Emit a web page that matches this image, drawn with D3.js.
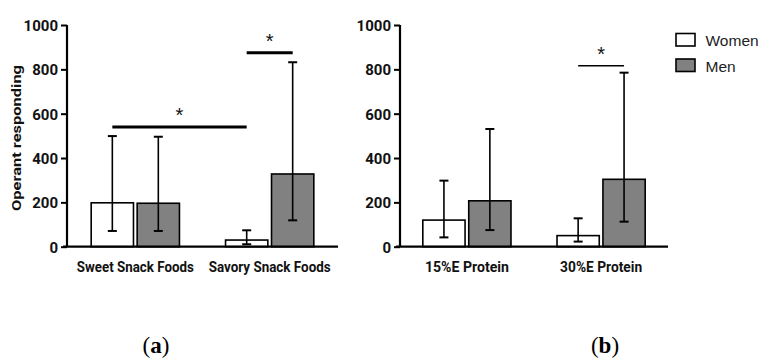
<!DOCTYPE html>
<html><head><meta charset="utf-8">
<script src="https://cdn.jsdelivr.net/npm/d3@7"></script>
<style>body{margin:0;background:#fff}svg{display:block}</style>
</head><body>
<svg id="chart" width="759" height="359"></svg>
<script>
// ---- data ----
const seriesNames = ["Women", "Men"];
const yTicks = [0, 200, 400, 600, 800, 1000];

const catsA = ["Sweet Snack Foods", "Savory Snack Foods"];
const womenA = [198, 30];
const womenA_hi = [499, 74];
const womenA_lo = [71, 11];
const menA = [196, 328];
const menA_hi = [496, 832];
const menA_lo = [71, 119];

const catsB = ["15%E Protein", "30%E Protein"];
const womenB = [120, 50];
const womenB_hi = [298, 128];
const womenB_lo = [42, 23];
const menB = [207, 304];
const menB_hi = [531, 785];
const menB_lo = [75, 113];

// significance brackets: [category, series] -> [category, series], at value
const sigA = [
  {c1: "Sweet Snack Foods", s1: "Women", c2: "Savory Snack Foods", s2: "Women", v: 540, w: 3},
  {c1: "Savory Snack Foods", s1: "Women", c2: "Savory Snack Foods", s2: "Men", v: 875, w: 3}
];
const sigB = [
  {c1: "30%E Protein", s1: "Women", c2: "30%E Protein", s2: "Men", v: 816, w: 1.6}
];

// ---- drawing ----
const svg = d3.select("#chart");
const fillOf = {Women: "#ffffff", Men: "#818181"};
const tickFont = "Roboto, 'Liberation Sans', Arial, sans-serif";
const labelWidths = {"Sweet Snack Foods": 117, "Savory Snack Foods": 122, "15%E Protein": 84, "30%E Protein": 82};

const y = d3.scaleLinear().domain([0, 1000]).range([246.7, 25]);

function panel(x0, x1, cats, wv, whi, wlo, mv, mhi, mlo, sigs, outer) {
  const g = svg.append("g");
  const x = d3.scaleBand().domain(cats).range([x0, x1]).paddingInner(0.343).paddingOuter(outer);
  const xs = d3.scaleBand().domain(seriesNames).range([0, x.bandwidth()]).paddingInner(0.08).paddingOuter(0);
  const rows = [];
  cats.forEach((c, i) => {
    rows.push({c, s: "Women", v: wv[i], hi: whi[i], lo: wlo[i]});
    rows.push({c, s: "Men", v: mv[i], hi: mhi[i], lo: mlo[i]});
  });
  const cx = d => x(d.c) + xs(d.s) + xs.bandwidth() / 2;

  // bars
  g.selectAll("rect.bar").data(rows).join("rect")
    .attr("x", d => x(d.c) + xs(d.s))
    .attr("y", d => y(d.v))
    .attr("width", xs.bandwidth())
    .attr("height", d => y(0) - y(d.v))
    .attr("fill", d => fillOf[d.s])
    .attr("stroke", "#000").attr("stroke-width", 1.6);

  // error bars
  const eb = g.selectAll("g.eb").data(rows).join("g");
  eb.append("line").attr("x1", cx).attr("x2", cx)
    .attr("y1", d => y(d.lo)).attr("y2", d => y(d.hi))
    .attr("stroke", "#000").attr("stroke-width", 1.6);
  ["hi", "lo"].forEach(k => {
    eb.append("line").attr("x1", d => cx(d) - 4.5).attr("x2", d => cx(d) + 4.5)
      .attr("y1", d => y(d[k])).attr("y2", d => y(d[k]))
      .attr("stroke", "#000").attr("stroke-width", 2);
  });

  // axes
  const ya = d3.axisLeft(y).tickValues(yTicks).tickFormat(d3.format("d")).tickSize(6).tickPadding(3);
  const yg = g.append("g").attr("transform", `translate(${x0},0)`).call(ya);
  yg.select(".domain").attr("stroke", "#000").attr("stroke-width", 2.2).attr("d", `M0,${y(1000)}V${y(0)}`);
  yg.selectAll(".tick line").attr("stroke-width", 2);
  yg.selectAll(".tick text").attr("font-family", tickFont).attr("font-weight", "bold")
    .attr("font-size", 15).attr("fill", "#111").attr("dy", "0.36em");

  const xa = d3.axisBottom(x).tickSize(0).tickPadding(0);
  const xg = g.append("g").attr("transform", `translate(0,${y(0)})`).call(xa);
  xg.select(".domain").attr("stroke", "#000").attr("stroke-width", 2.2).attr("d", `M${x0 - 4},0H${x1}`);
  xg.selectAll(".tick text").attr("font-family", tickFont).attr("font-weight", "bold")
    .attr("font-size", 14).attr("fill", "#111").attr("dy", null).attr("y", 25.5)
    .attr("textLength", d => labelWidths[d]).attr("lengthAdjust", "spacingAndGlyphs");

  // significance
  sigs.forEach(s => {
    const a = x(s.c1) + xs(s.s1) + xs.bandwidth() / 2;
    const b = x(s.c2) + xs(s.s2) + xs.bandwidth() / 2;
    g.append("line").attr("x1", a).attr("x2", b).attr("y1", y(s.v)).attr("y2", y(s.v))
      .attr("stroke", "#000").attr("stroke-width", s.w);
    g.append("text").attr("x", (a + b) / 2).attr("y", y(s.v) - 5)
      .attr("text-anchor", "middle").attr("font-family", "'Liberation Sans', Arial, sans-serif")
      .attr("font-size", 20).attr("fill", "#111").text("*");
  });
}

panel(67, 338, catsA, womenA, womenA_hi, womenA_lo, menA, menA_hi, menA_lo, sigA, 0.18);
panel(400, 668, catsB, womenB, womenB_hi, womenB_lo, menB, menB_hi, menB_lo, sigB, 0.17);

// y axis title
svg.append("text").attr("transform", "translate(21,138) rotate(-90)")
  .attr("text-anchor", "middle").attr("font-family", tickFont).attr("font-weight", "bold")
  .attr("font-size", 13).attr("fill", "#111")
  .attr("textLength", 146).attr("lengthAdjust", "spacingAndGlyphs").text("Operant responding");

// legend
const lg = svg.append("g").selectAll("g").data(seriesNames).join("g")
  .attr("transform", (d, i) => `translate(676,${33.5 + i * 25.5})`);
lg.append("rect").attr("width", 19).attr("height", 12.5)
  .attr("fill", d => fillOf[d]).attr("stroke", "#000").attr("stroke-width", 1.6);
lg.append("text").attr("x", 29.5).attr("y", 12.8)
  .attr("font-family", "'Liberation Sans Narrow', 'Liberation Sans', Arial, sans-serif").attr("font-size", 15.5)
  .attr("fill", "#222")
  .text(d => d);

// panel labels
[["a", 156], ["b", 605]].forEach(([l, px]) => {
  const t = svg.append("text").attr("x", px).attr("y", 353).attr("text-anchor", "middle")
    .attr("font-family", "'Liberation Serif', 'DejaVu Serif', serif").attr("font-size", 23).attr("fill", "#000");
  t.append("tspan").text("(");
  t.append("tspan").attr("font-weight", "bold").text(l);
  t.append("tspan").text(")");
});
</script>
</body></html>
